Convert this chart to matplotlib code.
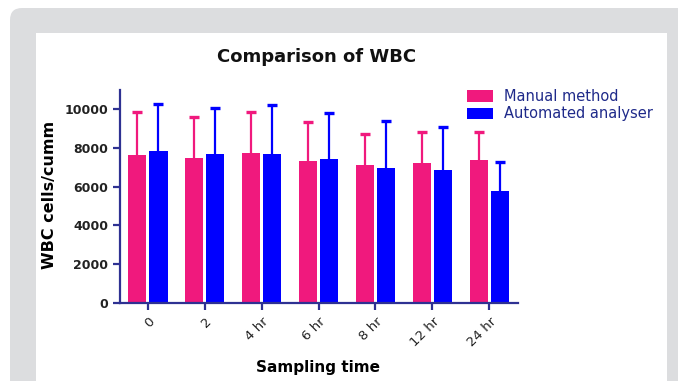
import numpy as np
import matplotlib
matplotlib.use("Agg")
import matplotlib.pyplot as plt
from matplotlib.patches import FancyBboxPatch, Rectangle, Patch

# data (mean and top of the SD bar)
times = ["0", "2", "4 hr", "6 hr", "8 hr", "12 hr", "24 hr"]
manual_mean = [7620, 7480, 7750, 7310, 7100, 7240, 7380]
manual_top = [9850, 9590, 9850, 9340, 8720, 8830, 8830]
auto_mean = [7830, 7690, 7690, 7450, 6960, 6860, 5790]
auto_top = [10270, 10070, 10210, 9790, 9410, 9070, 7280]

PINK = "#f0197d"
BLUE = "#0000ff"
NAVY = "#2e3192"

fig = plt.figure(figsize=(6.78, 3.81), dpi=100)
fig.patch.set_facecolor("white")

# page background: grey rounded card with a white panel
fig.patches.append(FancyBboxPatch((10, -30), 720, 403, boxstyle="round,pad=0,rounding_size=12",
                                  transform=None, facecolor="#dcdddf", edgecolor="none", zorder=-10))
fig.patches.append(Rectangle((36, -10), 631, 358, transform=None,
                             facecolor="white", edgecolor="none", zorder=-9))

ax = fig.add_axes([120 / 678, 1 - 302.7 / 381, 398 / 678, 212.7 / 381])
ax.patch.set_alpha(0)

x = np.arange(len(times))
w = 0.32
off = 0.185
manual_sd = np.array(manual_top) - np.array(manual_mean)
auto_sd = np.array(auto_top) - np.array(auto_mean)

ax.bar(x - off, manual_mean, w, color=PINK, zorder=2)
ax.bar(x + off, auto_mean, w, color=BLUE, zorder=2)

# upper SD only: hide the lower caps
for xs, m, sd, c in [(x - off, manual_mean, manual_sd, PINK), (x + off, auto_mean, auto_sd, BLUE)]:
    eb = ax.errorbar(xs, m, yerr=[np.zeros(len(xs)), sd], fmt="none",
                     ecolor=c, elinewidth=1.6, capsize=3.5, capthick=2.4, zorder=3)
    eb[1][0].set_visible(False)

ax.set_xlim(-0.49, 6.505)
ax.set_ylim(0, 11000)
ax.set_yticks(np.arange(0, 10001, 2000))
ax.set_xticks(x)
ax.set_xticklabels(times, rotation=45, ha="right", va="top", rotation_mode="anchor",
                   fontsize=9.5, color="#222222")
for lab in ax.get_yticklabels():
    lab.set_fontweight("bold")
    lab.set_fontsize(9)
    lab.set_color("#222222")

for s in ["top", "right"]:
    ax.spines[s].set_visible(False)
for s in ["left", "bottom"]:
    ax.spines[s].set_color(NAVY)
    ax.spines[s].set_linewidth(1.6)
ax.tick_params(axis="both", color=NAVY, width=1.6, length=5)
ax.tick_params(axis="x", pad=4)

ax.set_ylabel("WBC cells/cumm", fontsize=11.5, fontweight="bold", va="center")
ax.yaxis.set_label_coords(-0.176, 0.506)
ax.set_xlabel("Sampling time", fontsize=11, fontweight="bold", va="center")
ax.xaxis.set_label_coords(0.497, -0.307)

fig.text(317 / 678, 1 - 57 / 381, "Comparison of WBC", ha="center", va="center",
         fontsize=13, fontweight="bold", color="#111111")

handles = [Patch(facecolor=PINK, edgecolor="none"), Patch(facecolor=BLUE, edgecolor="none")]
leg = fig.legend(handles, ["Manual method", "Automated analyser"], loc="upper left",
                 bbox_to_anchor=(457 / 678, 1 - 79 / 381), frameon=False, fontsize=10.5,
                 handlelength=1.75, handleheight=0.85, handletextpad=0.8, labelspacing=0.15,
                 borderpad=0.2)
for t in leg.get_texts():
    t.set_color("#1f2a8a")

fig.savefig("out.png", dpi=100)
